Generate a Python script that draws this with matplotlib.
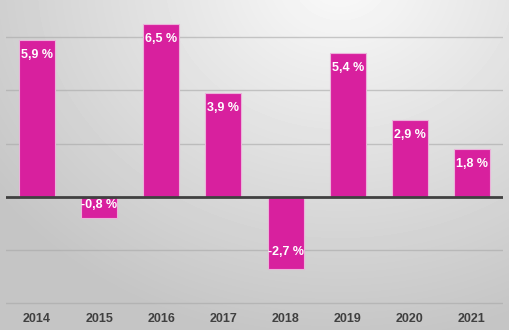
import numpy as np
import matplotlib
matplotlib.use("Agg")
import matplotlib.pyplot as plt

years = ["2014", "2015", "2016", "2017", "2018", "2019", "2020", "2021"]
growth = [5.9, -0.8, 6.5, 3.9, -2.7, 5.4, 2.9, 1.8]

bar_color = "#D8209E"
text_color = "#404040"

plt.rcParams["font.family"] = ["Liberation Sans", "DejaVu Sans"]

fig = plt.figure(figsize=(5.1, 3.3), dpi=100)

# background: soft radial gradient, light at the top, gray towards the edges
bg = fig.add_axes([0, 0, 1, 1], zorder=0)
yy, xx = np.mgrid[0:330, 0:510]
dist = np.sqrt(((xx - 340) / 1.0) ** 2 + ((yy + 20) / 0.85) ** 2)
t = np.clip(dist / 430.0, 0, 1)
shade = 0.98 - 0.21 * t
bg.imshow(shade, cmap="gray", vmin=0, vmax=1, aspect="auto", interpolation="bilinear")
bg.axis("off")

ax = fig.add_axes([6 / 510, 24 / 330, 497 / 510, 306 / 330], zorder=1)
ax.patch.set_alpha(0)

x = np.arange(len(years))
bars = ax.bar(x, growth, width=0.58, color=bar_color, edgecolor="#EBB3DA", linewidth=0.8, zorder=3)

ax.set_xlim(-0.5, len(years) - 0.5)
ax.set_ylim(-4.1, 7.4)
ax.set_yticks([-4, -2, 2, 4, 6])
ax.yaxis.grid(True, color="#A8A8A8", linewidth=1, alpha=0.6)
ax.set_axisbelow(True)
ax.axhline(0, color="#404040", linewidth=2, zorder=4)

for s in ax.spines.values():
    s.set_visible(False)
ax.tick_params(axis="y", left=False, labelleft=False)
ax.tick_params(axis="x", bottom=False, pad=1.5)
ax.set_xticks(x)
ax.set_xticklabels(years, fontsize=9, fontweight="bold", color=text_color)

for xi, v in zip(x, growth):
    label = f"{v:.1f} %".replace(".", ",")
    if v >= 0:
        ax.annotate(label, (xi, v), xytext=(0, -6.5), textcoords="offset points",
                    ha="center", va="top", color="white", fontsize=9, fontweight="bold", zorder=5)
    elif v < -1.5:
        ax.annotate(label, (xi, v), xytext=(0, 8), textcoords="offset points",
                    ha="center", va="bottom", color="white", fontsize=9, fontweight="bold", zorder=5)
    else:
        # short bar: label hangs just under the zero line
        ax.annotate(label, (xi, 0), xytext=(0, -1.5), textcoords="offset points",
                    ha="center", va="top", color="white", fontsize=9, fontweight="bold", zorder=5)

fig.savefig("out.png", dpi=100)
